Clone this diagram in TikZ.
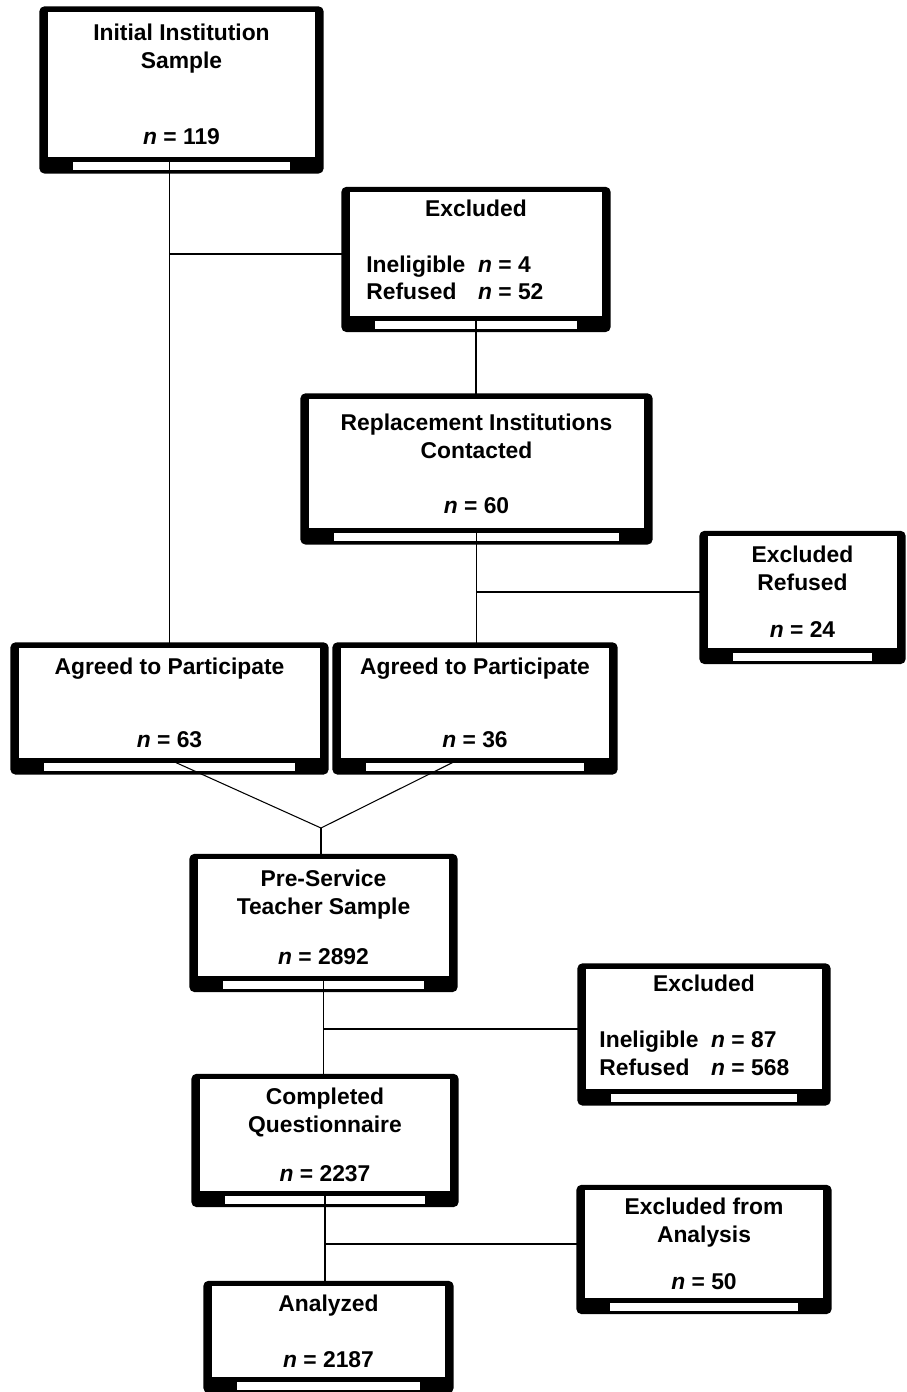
\documentclass[tikz,border=0pt]{standalone}
\usepackage{fontspec}
\setmainfont{Liberation Sans}
\usetikzlibrary{backgrounds}
\newcommand{\nn}[1]{\textit{n} = #1}

\begin{document}
\begin{tikzpicture}[
  x=0.02cm, y=-0.02cm,
  box/.style={draw, fill=white, line width=0.8pt, align=center, inner sep=0pt,
    font=\fontsize{13}{15.9}\selectfont\bfseries},
  link/.style={draw, line width=0.6pt}
]
\useasboundingbox (0,0) rectangle (906,1392);

% boxes
\node[box, minimum width=5.38cm, minimum height=2.94cm] (init) at (181.5,84.5)
  {Initial Institution\\Sample\\[27.3pt]\nn{119}};
\node[box, minimum width=5.08cm, minimum height=2.50cm] (excl1) at (476,254)
  {Excluded\\[15.9pt]\begin{tabular}[t]{@{}l@{\ \ }l@{}}Ineligible & \nn{4}\\ Refused & \nn{52}\end{tabular}\hspace*{24pt}};
\node[box, minimum width=6.74cm, minimum height=2.62cm] (repl) at (476.5,463.5)
  {Replacement Institutions\\Contacted\\[15.4pt]\nn{60}};
\node[box, minimum width=3.82cm, minimum height=2.26cm] (excl2) at (802.5,592)
  {Excluded\\Refused\\[10.8pt]\nn{24}};
\node[box, minimum width=6.06cm, minimum height=2.24cm] (agree1) at (169.5,703)
  {Agreed to Participate\\[25.6pt]\nn{63}};
\node[box, minimum width=5.40cm, minimum height=2.24cm] (agree2) at (475,703)
  {Agreed to Participate\\[25.6pt]\nn{36}};
\node[box, minimum width=5.06cm, minimum height=2.36cm] (pre) at (323.5,917.5)
  {Pre-Service\\Teacher Sample\\[12.5pt]\nn{2892}};
\node[box, minimum width=4.76cm, minimum height=2.44cm] (excl3) at (704,1029)
  {Excluded\\[15.9pt]\begin{tabular}[t]{@{}l@{\ \ }l@{}}Ineligible & \nn{87}\\ Refused & \nn{568}\end{tabular}\hspace*{11pt}};
\node[box, minimum width=5.04cm, minimum height=2.26cm] (compl) at (325,1135)
  {Completed\\Questionnaire\\[12pt]\nn{2237}};
\node[box, minimum width=4.80cm, minimum height=2.18cm] (excl4) at (704,1244)
  {Excluded from\\Analysis\\[10.8pt]\nn{50}};
\node[box, minimum width=4.70cm, minimum height=1.84cm] (anal) at (328.5,1331.5)
  {Analyzed\\[15.9pt]\nn{2187}};

% heavy frames behind the boxes
\begin{scope}[on background layer]
\foreach \b in {init,excl1,repl,excl2,agree1,agree2,pre,excl3,compl,excl4,anal} {
  \fill[rounded corners=3pt] ([shift={(-4pt,-8.5pt)}]\b.south west) rectangle ([shift={(4pt,2.3pt)}]\b.north east);
  \fill[white] ([shift={(15pt,-2pt)}]\b.south west) rectangle ([shift={(-15pt,-6.5pt)}]\b.south east);
}
\end{scope}

% connectors
\draw[link] (agree1.north |- init.south) -- (agree1.north);
\draw[link] (agree1.north |- excl1.west) -- (excl1.west);
\draw[link] (excl1.south) -- (excl1.south |- repl.north);
\draw[link] (repl.south) -- (repl.south |- agree2.north);
\draw[link] (repl.south |- excl2.west) -- (excl2.west);
\coordinate (merge) at (321,828);
\draw[link] (agree1.south) -- (merge) -- ([xshift=-9.5pt]agree2.south);
\draw[link] (merge) -- (merge |- pre.north);
\draw[link] (pre.south) -- (pre.south |- compl.north);
\draw[link] (pre.south |- excl3.west) -- (excl3.west);
\draw[link] (compl.south) -- (compl.south |- anal.north);
\draw[link] (compl.south |- excl4.west) -- (excl4.west);
\end{tikzpicture}
\end{document}
